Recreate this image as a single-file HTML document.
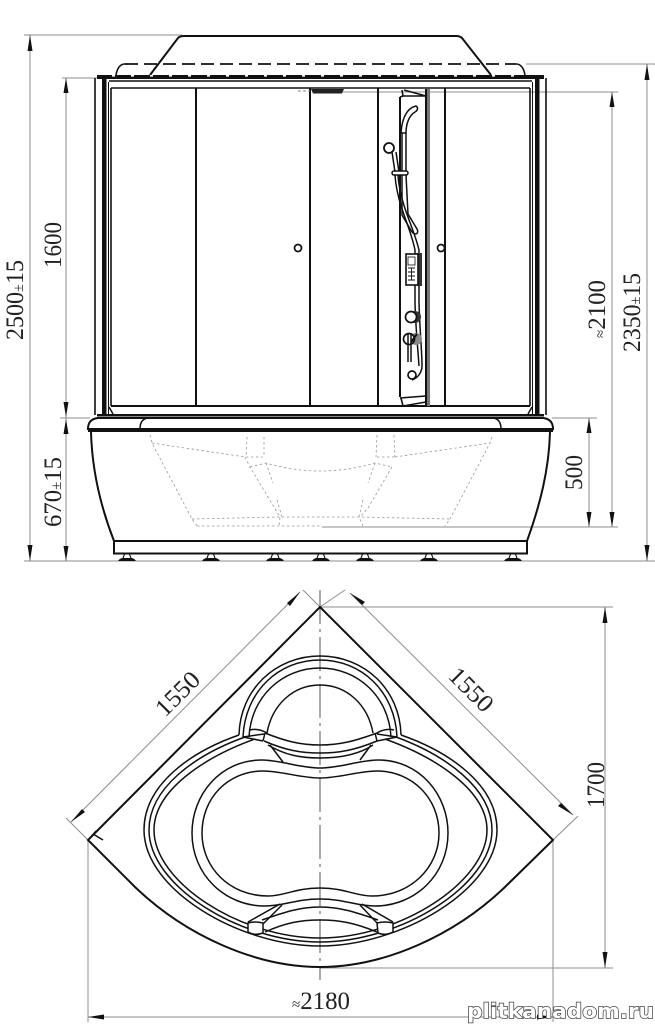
<!DOCTYPE html>
<html><head><meta charset="utf-8">
<style>html,body{margin:0;padding:0;background:#fff}svg{display:block}
text{font-family:"Liberation Serif",serif;font-size:25px;fill:#222}
.s{font-size:15px}
.d{stroke:#8c8c8c;stroke-width:1;fill:none}
.k{stroke:#111;stroke-width:1.5;fill:none}
.t{stroke:#111;stroke-width:2;fill:none}
.p{stroke:#999;stroke-width:.8;fill:none;stroke-dasharray:2.5 2.5}
.h{stroke:#111;stroke-width:1.6;fill:none}
</style></head><body>
<svg width="655" height="1024" viewBox="0 0 655 1024" xmlns="http://www.w3.org/2000/svg">
<rect width="655" height="1024" fill="#fff"/>
<!-- dimension lines, elevation -->
<path class="d" d="M24 35H182M62 78H100M60 418H90M24 561H655M526 64H655M343 92H618M552 418H597M322 527H618
M30 35V561M66 78V561M647 64V561M612 92V527M589 418V527"/>
<g fill="#111">
<path d="M30 35l-2.500 16h5zM30 561l-2.500-16h5zM66 78l-2.500 15h5zM66 417l-2.500-15h5zM66 419l-2.500 15h5zM66 561l-2.500-15h5z
M647 64l-2.500 16h5zM647 561l-2.500-16h5zM612 92l-2.500 15h5zM612 527l-2.500-15h5zM589 418l-2.500 15h5zM589 527l-2.500-15h5z"/>
</g>
<!-- canopy -->
<path class="t" d="M150 75L178 38Q180 36 184 36H456Q460 36 462 38L491 75"/>
<path d="M116 75Q118 64 125 64" class="h"/><path d="M516 64Q523 64 525 75" class="h"/>
<path d="M125 64H516" stroke="#111" stroke-width="1.800" fill="none" stroke-dasharray="13 6"/>
<rect x="97" y="75" width="447" height="4" fill="#111"/>
<path d="M112 75.800H530" stroke="#fff" stroke-width="1.600" stroke-dasharray="3 16" fill="none"/>
<!-- posts -->
<path class="h" d="M95 78V415M546 78V415M111 88V406M530 88V406"/>
<path class="k" style="stroke-width:1" d="M108.500 82V414M532.500 82V414"/>
<rect x="102" y="78" width="4.500" height="337" fill="#111"/>
<rect x="535" y="78" width="4.500" height="337" fill="#111"/>
<path class="h" d="M109 81H532M111 88H530"/>
<path class="t" d="M196 88V406M310 88V406M378 88V406M445 88V406"/>
<path class="t" d="M111 406H530"/>
<path d="M109 407L113 414M532 407L528 414" class="k"/>
<rect x="97" y="414" width="447" height="2.500" fill="#111"/>
<!-- ceiling handle -->
<path d="M311 89H344L342 93.500H313Z" fill="#222"/>
<path d="M298 91H310" stroke="#888" stroke-dasharray="3 2"/>
<circle cx="298" cy="248" r="3.500" fill="#fff" stroke="#111" stroke-width="1.700"/>
<circle cx="441" cy="248" r="3.500" fill="#fff" stroke="#111" stroke-width="1.700"/>
<!-- shower panel -->
<path class="t" d="M400 97V397M426 89V405"/>
<rect x="427" y="89" width="3" height="317" fill="#777"/>
<path class="h" d="M402 90L403 96H426L404 90M400 97L403 96M400 398L426 396V402L403 406L401 398"/>
<path class="k" d="M401 133C402 118 407 108 416 106C419 108 417 111 415 112C410 115 406 122 406 133ZM401 133H406M402 133V175M406 133V175M402 175V215L412 232C416 236 419 233 417 229L408 214L406 175"/>
<circle cx="389" cy="148" r="5" fill="#fff" stroke="#111" stroke-width="1.800"/>
<path class="k" d="M392 152L395 172M396 152L399 172"/>
<rect x="392" y="171" width="16" height="4" rx="2" fill="#fff" stroke="#111" stroke-width="1.500"/>
<path class="k" d="M395 175C397 205 410 225 415 250V300C415 320 418 350 419 366M398 175C400 205 413 225 419 250V300C419 320 422 350 422 366C422 372 418 378 412 380"/>
<circle cx="412" cy="375" r="4" fill="#fff" stroke="#111" stroke-width="1.700"/>
<rect x="417" y="253" width="5" height="33" fill="#333"/>
<rect x="406" y="254" width="12" height="31" fill="#fff" stroke="#111" stroke-width="1.600"/>
<rect x="408" y="257" width="7" height="8" fill="#fff" stroke="#111" stroke-width=".8"/>
<path d="M408 268H415M408 272H415M408 276H415M408 280H415M411.500 268V280" stroke="#111" stroke-width=".9"/>
<circle cx="415" cy="317" r="6" fill="#333"/>
<circle cx="411" cy="317" r="5.500" fill="#fff" stroke="#111" stroke-width="1.700"/>
<circle cx="416" cy="339" r="6" fill="#888"/>
<circle cx="409" cy="339" r="5.500" fill="#fff" stroke="#111" stroke-width="1.700"/>
<path d="M408 333V362M411 333V362" class="k"/>
<path d="M411 342L417 334" class="t"/>
<!-- tub rim -->
<path class="t" d="M98 418H543Q553 419 553 429H88Q88 419 98 418Z"/>
<path class="k" d="M140 429Q140 419 148 418M501 429Q501 419 493 418"/>
<path d="M88 429H553V432H88Z" fill="#111"/>
<path class="t" d="M91 432C92 470 100 505 114 541M550 432C549 470 540 505 527 541"/>
<rect x="114" y="541" width="413" height="12.500" fill="#fff" stroke="#111" stroke-width="2"/>
<!-- feet -->
<g fill="#111">
<path d="M118 561Q119 559 122 558H132Q135 559 136 561Z"/>
<path d="M202 561Q203 559 206 558H216Q219 559 220 561Z"/>
<path d="M266 561Q267 559 270 558H280Q283 559 284 561Z"/>
<path d="M312 561Q313 559 316 558H326Q329 559 330 561Z"/>
<path d="M356 561Q357 559 360 558H370Q373 559 374 561Z"/>
<path d="M420 561Q421 559 424 558H434Q437 559 438 561Z"/>
<path d="M504 561Q505 559 508 558H518Q521 559 522 561Z"/>
</g>
<path class="k" style="stroke-width:1.100" d="M123 558L125 553H129L131 558M207 558L209 553H213L215 558M271 558L273 553H277L279 558M317 558L319 553H323L325 558M361 558L363 553H367L369 558M425 558L427 553H431L433 558M509 558L511 553H515L517 558"/>
<!-- hidden tub dashes -->
<path class="p" d="M150 435L152 443L192 519L197 526M152 443L245 457L263 457M247 437L246 457M264 437L264 457M250 467L266 463Q320 479 375 463L392 467M377 457H395M377 435L376 457M394 435L395 457M395 457L490 443M492 437L490 443L450 519L445 526M192 519L280 517H360L450 519M197 526H322M245 457L250 467L280 517L279 526M266 463L273 483M277 500L282 517M375 463L368 483M363 500L359 517L363 526M392 467L368 508L360 517"/>
<!-- plan dims -->
<path class="d" d="M88 840L66 818M320 607L303 590M71 822L300 592M553 840L578 816M320 607L345 590M350 593L573 815M320 607H613M320 968H613M605 607V968M88 840V1022M553 840V1022M88 1017H553"/>
<path d="M320 590V980" stroke="#555" stroke-width="1" fill="none" stroke-dasharray="34 5 3 5"/>
<g fill="#111">
<path d="M71 822l11-13 3 3zM300 592l-13 11 3 3zM350 593l12 12 3-3zM573 815l-12-12-3 3zM605 607l-2.500 16h5zM605 968l-2.500-16h5zM88 1017l16-2.500v5zM553 1017l-16-2.500v5z"/>
</g>
<!-- plan outline -->
<path class="t" d="M88 840L320 607L553 840L505 887C455 935 385 967 320 967C255 967 185 935 135 887Z"/>
<path class="k" d="M93 834L103 840M96 831L90 838"/>
<!-- big rims -->
<path class="k" d="M239 735C190 752 144 785 144 830C144 890 240 946 320 946C400 946 497 890 497 830C497 785 450 752 401 735"/>
<path class="k" d="M245 737C195 755 149 788 149 830C149 886 240 942 320 942C400 942 492 886 492 830C492 788 445 755 396 737"/>
<path class="k" d="M255 739C205 757 154 790 154 830C154 882 240 938 320 938C400 938 487 882 487 830C487 790 435 757 385 739"/>
<!-- tub -->
<path class="k" d="M320 768C300 768 280 760 262 760C220 760 192 795 192 833C192 875 225 906 265 906C285 906 295 899 320 899C345 899 355 906 375 906C415 906 448 875 448 833C448 795 420 760 378 760C360 760 340 768 320 768Z"/>
<path class="k" d="M320 778C300 778 282 771 263 771C228 771 202 798 202 833C202 868 230 896 268 896C285 896 295 888 320 888C345 888 355 896 372 896C410 896 439 868 439 833C439 798 412 771 377 771C358 771 340 778 320 778Z"/>
<!-- top seat -->
<path class="k" d="M239 735C240 690 275 656 320 656C365 656 400 690 401 735"/>
<path class="k" d="M243 737C245 692 278 660 320 660C362 660 395 692 397 737"/>
<path class="k" d="M249 737C251 697 282 668 320 668C358 668 389 697 391 737"/>
<path class="k" d="M267 733C272 705 293 685 320 685C347 685 368 705 373 733"/>
<path class="k" d="M265 733C285 741 300 745 320 745C340 745 355 741 377 733M264 741C285 750 300 753 320 753C340 753 355 750 377 741M268 745C285 755 300 758 320 758C340 758 358 755 373 745M265 733L263 741M375 733L377 741M243 737L264 734M250 730Q258 728 267 733M243 737L263 741M377 733Q385 728 394 730M377 741L397 737M377 734L397 737M270 745L283 762M371 745L360 760"/>
<!-- bottom seat -->
<path class="k" d="M262 920C285 912 300 907 320 907C340 907 355 912 378 920M265 932C285 923 300 920 320 920C340 920 355 923 377 932"/>
<path class="k" d="M248 922L280 904M263 924L282 905M393 922L362 904M378 924L360 905"/>
<path d="M248 923Q255 921 263 923V933Q255 936 248 932ZM377 923Q385 921 393 923V932Q385 936 378 933Z" fill="#fff" stroke="#111" stroke-width="1.500"/>
<!-- labels -->
<text transform="translate(23 340) rotate(-90)" textLength="80" lengthAdjust="spacingAndGlyphs">2500<tspan class="s">±</tspan>15</text>
<text transform="translate(61 268) rotate(-90)" textLength="46" lengthAdjust="spacingAndGlyphs">1600</text>
<text transform="translate(61 527) rotate(-90)" textLength="70" lengthAdjust="spacingAndGlyphs">670<tspan class="s">±</tspan>15</text>
<text transform="translate(640 352) rotate(-90)" textLength="79" lengthAdjust="spacingAndGlyphs">2350<tspan class="s">±</tspan>15</text>
<text transform="translate(605 338) rotate(-90)" textLength="58" lengthAdjust="spacingAndGlyphs"><tspan class="s">≈</tspan>2100</text>
<text transform="translate(582 490) rotate(-90)" textLength="35" lengthAdjust="spacingAndGlyphs">500</text>
<text transform="translate(604 808) rotate(-90)" textLength="46" lengthAdjust="spacingAndGlyphs">1700</text>
<text transform="translate(165 718) rotate(-45)" textLength="52" lengthAdjust="spacingAndGlyphs">1550</text>
<text transform="translate(447 677) rotate(45)" textLength="52" lengthAdjust="spacingAndGlyphs">1550</text>
<text x="292" y="1009" textLength="58" lengthAdjust="spacingAndGlyphs"><tspan class="s">≈</tspan>2180</text>
<text x="467" y="1018" textLength="187" lengthAdjust="spacingAndGlyphs" style="font-family:'DejaVu Sans',sans-serif;font-weight:bold;font-size:20px;fill:#fff;stroke:#444;stroke-width:1.400px;paint-order:stroke">plitkanadom.ru</text>
</svg>
</body></html>
